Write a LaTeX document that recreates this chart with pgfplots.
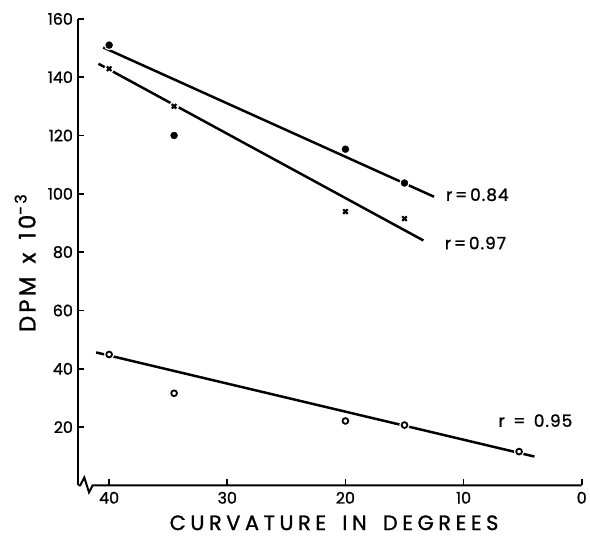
\documentclass[border=0pt]{standalone}
\usepackage{fontspec}
\setmainfont{Poppins}[FakeBold=1.2]
\newfontfamily\labfont{Poppins}[FakeBold=1.2, LetterSpace=22, WordSpace=1.6]
\newfontfamily\ylabfont{Poppins}[FakeBold=1.2, LetterSpace=14, WordSpace=1.4]
\newfontfamily\rfont{Poppins}[FakeBold=1.2, LetterSpace=6]
\usepackage{pgfplots}
\pgfplotsset{compat=1.18}
\begin{document}
\begin{tikzpicture}
\begin{axis}[
  scale only axis, width=507pt, height=470pt,
  x dir=reverse, xmin=0, xmax=42.6, ymin=0, ymax=160,
  axis x line=bottom, axis y line=left,
  axis line style={-, line width=2pt},
  x axis line style={draw=none},
  xtick={0,10,20,30,40}, ytick={20,40,...,160},
  tick align=inside, major tick length=6pt,
  tick style={line width=1.8pt, black},
  tick label style={font=\fontsize{16}{18}\selectfont},
  xticklabel style={yshift=-3pt},
  yticklabel style={xshift=-2pt},
  /pgf/number format/assume math mode=true,
  xlabel={CURVATURE IN DEGREES},
  ylabel={DPM x 10\textsuperscript{-3}},
  xlabel style={font=\labfont\fontsize{21}{24}\selectfont, at={(axis description cs:0.508,0)}, anchor=base, yshift=-45pt, inner sep=0pt},
  ylabel style={font=\ylabfont\fontsize{23}{26}\selectfont, at={(axis description cs:-0.106,0.477)}, anchor=center, inner sep=0pt},
  clip=false,
]
% bounding box
\path (axis description cs:-0.1558,-0.1106) rectangle (axis description cs:1.0079,1.0404);
% regression lines
\addplot[black, line width=2.5pt] coordinates {(40.5,150.2) (12.5,99)};
\addplot[black, line width=2.5pt] coordinates {(40.9,144.6) (13.4,84)};
\addplot[black, line width=2.5pt] coordinates {(41.1,45.6) (4.0,9.9)};
% halos
\addplot[only marks, mark=*, mark size=5pt, white] coordinates {(40,151) (34.5,120) (20,115.3) (15,103.7)};
\addplot[only marks, mark=*, mark size=4.8pt, white] coordinates {(40,142.9) (34.5,130) (20,93.9) (15,91.5)};
\addplot[only marks, mark=*, mark size=5pt, white] coordinates {(40,44.9) (34.5,31.6) (20,22.1) (15,20.7) (5.3,11.6)};
% data
\addplot[only marks, mark=*, mark size=3.5pt, black] coordinates {(40,151) (34.5,120) (20,115.3) (15,103.7)};
\addplot[only marks, mark=x, mark size=3.2pt, black, mark options={line width=2.2pt}] coordinates {(40,142.9) (34.5,130) (20,93.9) (15,91.5)};
\addplot[only marks, mark=o, mark size=2.9pt, black, mark options={line width=1.8pt}] coordinates {(40,44.9) (34.5,31.6) (20,22.1) (15,20.7) (5.3,11.6)};
% x axis line with break
\draw[line width=2pt, line join=miter] (axis cs:42.6,0) -- (axis cs:42.45,0) -- (axis cs:42.1,2.7) -- (axis cs:41.7,-2.4) -- (axis cs:41.4,0) -- (axis cs:0,0);
% labels
\node[anchor=base west, font=\rfont\fontsize{17}{19}\selectfont, inner sep=0pt] at (axis cs:11.5,97.6) {r\,=\,0.84};
\node[anchor=base west, font=\rfont\fontsize{17}{19}\selectfont, inner sep=0pt] at (axis cs:11.6,81) {r\,=\,0.97};
\node[anchor=base west, font=\rfont\fontsize{17}{19}\selectfont, inner sep=0pt] at (axis cs:7.06,20.1) {r\enspace=\enspace0.95};
\end{axis}
\end{tikzpicture}
\end{document}
